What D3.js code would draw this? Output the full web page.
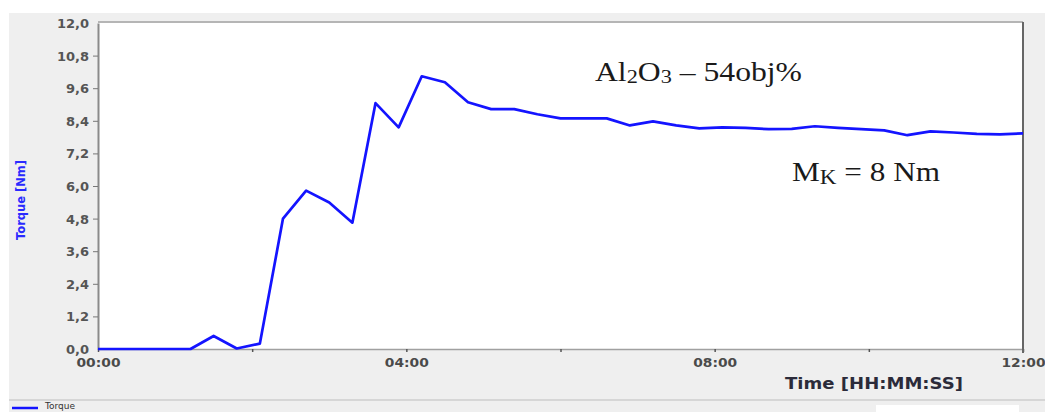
<!DOCTYPE html>
<html>
<head>
<meta charset="utf-8">
<script src="https://cdn.jsdelivr.net/npm/d3@7"></script>
<style>
  html, body { margin: 0; padding: 0; background: #fff; }
  svg { display: block; }
</style>
</head>
<body>
<script>
// Torque readings every 18 s (time in seconds, torque in Nm)
const timeSec = [0, 18, 36, 54, 72, 90, 108, 126, 144, 162, 180, 198, 216, 234, 252, 270, 288, 306, 324, 342,
  360, 378, 396, 414, 432, 450, 468, 486, 504, 522, 540, 558, 576, 594, 612, 630, 648, 666, 684, 702, 720]
const torque = [0, 0, 0, 0, 0, 0.48, 0.02, 0.2, 4.8, 5.83, 5.39, 4.65, 9.05, 8.16, 10.04, 9.82, 9.08, 8.83, 8.83, 8.64,
  8.49, 8.49, 8.49, 8.23, 8.38, 8.23, 8.12, 8.16, 8.14, 8.09, 8.1, 8.2, 8.14, 8.09, 8.05, 7.87, 8.01, 7.97, 7.92, 7.9, 7.94]

const yTicks = [0, 1.2, 2.4, 3.6, 4.8, 6.0, 7.2, 8.4, 9.6, 10.8, 12.0]
const xTicks = [0, 120, 240, 360, 480, 600, 720]
const xLabelTicks = [0, 240, 480, 720]

const yTitle = 'Torque [Nm]'
const xTitle = 'Time [HH:MM:SS]'
const seriesName = 'Torque'

const width = 1045
const height = 412
const margins = { left: 98, right: 22, top: 22, bottom: 63 }
const lineColor = '#1414ff'

const xScale = d3.scaleLinear()
  .domain([0, 720])
  .range([margins.left, width - margins.right])

const yScale = d3.scaleLinear()
  .domain([0, 12])
  .range([height - margins.bottom, margins.top + 1])

const fmtY = d => d3.format('.1f')(d).replace('.', ',')
const fmtX = d => `${d3.format('02d')(Math.floor(d / 60))}:${d3.format('02d')(d % 60)}`

const svg = d3.select('body').append('svg')
  .attr('width', width)
  .attr('height', height)
  .attr('viewBox', [0, 0, width, height].join(' '))

// panel background
svg.append('rect')
  .attr('x', 9).attr('y', 13)
  .attr('width', width - 9).attr('height', height - 13)
  .attr('fill', '#efefef')

// plot area
const [x0, x1] = xScale.range()
const [yb] = yScale.range()
svg.append('rect')
  .attr('x', x0).attr('y', margins.top)
  .attr('width', x1 - x0).attr('height', yb - margins.top)
  .attr('fill', '#fff')

svg.append('line')
  .attr('x1', x0).attr('x2', x1)
  .attr('y1', margins.top).attr('y2', margins.top)
  .attr('stroke', '#b5b5b5').attr('stroke-width', 2)

// y axis
const yAxis = svg.append('g')
  .attr('transform', `translate(${x0},0)`)
  .call(d3.axisLeft(yScale).tickValues(yTicks).tickFormat(fmtY).tickSize(5).tickPadding(4).tickSizeOuter(0))
yAxis.select('.domain').attr('stroke', '#8a8a8a').attr('stroke-width', 2)
yAxis.selectAll('.tick line').attr('stroke', '#777')
yAxis.selectAll('.tick line').filter(d => d === 12 || d === 0).remove()
yAxis.selectAll('.tick text')
  .attr('fill', '#555')
  .style('font-family', 'DejaVu Sans, sans-serif')
  .style('font-weight', 'bold')
  .style('font-size', '13px')
  .attr('dy', '0.35em')

// x axis
const xAxis = svg.append('g')
  .attr('transform', `translate(0,${yb})`)
  .call(d3.axisBottom(xScale).tickValues(xTicks)
    .tickFormat(d => xLabelTicks.includes(d) ? fmtX(d) : '')
    .tickSize(3).tickPadding(6).tickSizeOuter(0))
xAxis.select('.domain').attr('stroke', '#a0a0a0').attr('stroke-width', 1.5)
xAxis.selectAll('.tick line').attr('stroke', '#555').attr('stroke-width', 1.5)
xAxis.selectAll('.tick text')
  .attr('fill', '#4a4a4a')
  .style('font-family', 'DejaVu Sans, sans-serif')
  .style('font-weight', 'bold')
  .style('font-size', '12.5px')
  .attr('textLength', 44)
  .attr('lengthAdjust', 'spacingAndGlyphs')

// right border
svg.append('line')
  .attr('x1', x1).attr('x2', x1)
  .attr('y1', margins.top).attr('y2', yb + 4)
  .attr('stroke', '#666').attr('stroke-width', 2)

// line
const line = d3.line()
  .x((d, i) => xScale(timeSec[i]))
  .y(d => yScale(d))

svg.append('path')
  .datum(torque)
  .attr('d', line)
  .attr('fill', 'none')
  .attr('stroke', lineColor)
  .attr('stroke-width', 2.7)
  .attr('stroke-linejoin', 'round')

// axis titles
svg.append('text')
  .attr('transform', 'translate(25,200) rotate(-90)')
  .attr('text-anchor', 'middle')
  .attr('fill', '#2a2aff')
  .style('font-family', 'DejaVu Sans, sans-serif')
  .style('font-weight', 'bold')
  .style('font-size', '12px')
  .attr('textLength', 80)
  .attr('lengthAdjust', 'spacingAndGlyphs')
  .text(yTitle)

svg.append('text')
  .attr('x', 874).attr('y', 389)
  .attr('text-anchor', 'middle')
  .attr('fill', '#2b2b3a')
  .style('font-family', 'DejaVu Sans, sans-serif')
  .style('font-weight', 'bold')
  .style('font-size', '15px')
  .attr('textLength', 178)
  .attr('lengthAdjust', 'spacingAndGlyphs')
  .text(xTitle)

// annotations
const ann1 = svg.append('text')
  .attr('x', 595).attr('y', 81)
  .attr('fill', '#1a1a1a')
  .style('font-family', 'Liberation Serif, serif')
  .style('font-size', '27px')
  .attr('textLength', 207)
  .attr('lengthAdjust', 'spacingAndGlyphs')
ann1.append('tspan').text('Al')
ann1.append('tspan').style('font-size', '19px').attr('dy', 2).text('2')
ann1.append('tspan').attr('dy', -2).text('O')
ann1.append('tspan').style('font-size', '19px').attr('dy', 2).text('3')
ann1.append('tspan').attr('dy', -2).text(' \u2013 54obj%')

const ann2 = svg.append('text')
  .attr('x', 792).attr('y', 181)
  .attr('fill', '#1a1a1a')
  .style('font-family', 'Liberation Serif, serif')
  .style('font-size', '27px')
  .attr('textLength', 148)
  .attr('lengthAdjust', 'spacingAndGlyphs')
ann2.append('tspan').text('M')
ann2.append('tspan').style('font-size', '20px').attr('dy', 3).text('K')
ann2.append('tspan').attr('dy', -3).text(' = 8 Nm')

// legend strip
svg.append('line')
  .attr('x1', 9).attr('x2', width)
  .attr('y1', 400).attr('y2', 400)
  .attr('stroke', '#d6d6d6').attr('stroke-width', 2)
svg.append('rect')
  .attr('x', 876).attr('y', 405)
  .attr('width', 143).attr('height', 7)
  .attr('fill', '#fff')
svg.append('line')
  .attr('x1', 12).attr('x2', 38)
  .attr('y1', 408).attr('y2', 408)
  .attr('stroke', lineColor).attr('stroke-width', 2.5)
svg.append('text')
  .attr('x', 45).attr('y', 409)
  .attr('fill', '#333')
  .style('font-family', 'DejaVu Sans, sans-serif')
  .style('font-size', '9px')
  .text(seriesName)
</script>
</body>
</html>
